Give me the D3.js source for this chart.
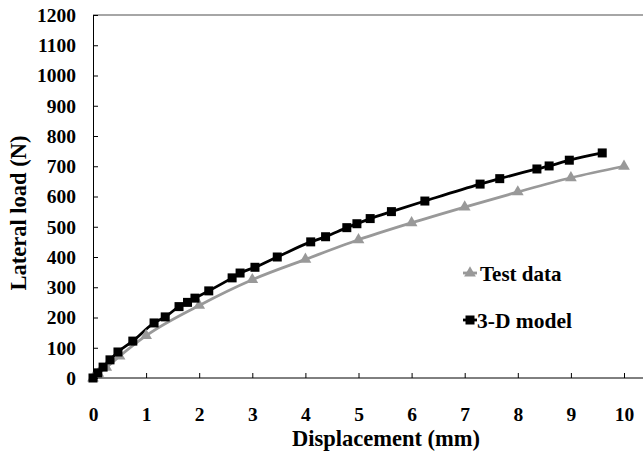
<!DOCTYPE html>
<html><head><meta charset="utf-8">
<script src="https://cdn.jsdelivr.net/npm/d3@7"></script>
<style>body{margin:0;background:#fff}svg{display:block}text{font-family:"Liberation Serif","Times New Roman",serif;font-weight:bold;fill:#000}</style>
</head><body><svg id="c" width="643" height="451"></svg>
<script>
const testX = [0, 0.1, 0.25, 0.5, 1, 2, 3, 4, 5, 6, 7, 8, 9, 10];
const testY = [0, 15, 35, 72, 140, 240, 325, 392, 457, 513, 565, 615, 662, 700];
const modelX = [0, 0.09, 0.19, 0.32, 0.47, 0.75, 1.15, 1.36, 1.62, 1.78, 1.92, 2.18, 2.62, 2.77, 3.05, 3.47, 4.1, 4.38, 4.78, 4.97, 5.22, 5.62, 6.25, 7.29, 7.66, 8.36, 8.59, 8.97, 9.59];
const modelY = [0, 17, 36, 60, 86, 122, 182, 202, 236, 250, 264, 288, 331, 347, 366, 400, 450, 467, 497, 510, 527, 550, 585, 641, 659, 691, 701, 720, 744];
const xTicks = [0,1,2,3,4,5,6,7,8,9,10];
const yTicks = [0,100,200,300,400,500,600,700,800,900,1000,1100,1200];
const seriesNames = ["Test data", "3-D model"];

const svg = d3.select("#c");
const x = d3.scaleLinear().domain([0,10]).range([93,624]);
const y = d3.scaleLinear().domain([0,1200]).range([378,15]);

svg.append("line").attr("x1",93).attr("x2",643).attr("y1",y(1200)).attr("y2",y(1200)).attr("stroke","#888").attr("stroke-width",1.5);
const xa = svg.append("g").attr("transform","translate(0,"+y(0)+")")
  .call(d3.axisBottom(x).tickValues(xTicks).tickSize(-5).tickPadding(29).tickFormat(d3.format("d")));
xa.select(".domain").attr("d","M93,0H643").attr("stroke","#000");
const ya = svg.append("g").attr("transform","translate("+x(0)+",0)")
  .call(d3.axisLeft(y).tickValues(yTicks).tickSize(-5).tickPadding(17).tickFormat(d3.format("d")));
ya.select(".domain").attr("stroke","#000");
svg.selectAll(".tick text").style("font-family","Liberation Serif").style("font-weight","bold").style("font-size","19.5px").attr("fill","#000");
svg.selectAll(".tick line").attr("stroke","#000");

svg.append("text").attr("x",386).attr("y",446).attr("text-anchor","middle").style("font-size","22.5px").text("Displacement (mm)");
svg.append("text").attr("transform","translate(26,213) rotate(-90)").attr("text-anchor","middle").style("font-size","22.5px").text("Lateral load (N)");

const line = d3.line().x(d=>x(d[0])).y(d=>y(d[1])).curve(d3.curveMonotoneX);
const test = testX.map((v,i)=>[v,testY[i]]);
const model = modelX.map((v,i)=>[v,modelY[i]]);
const gray = "#999999";

svg.append("path").attr("d",line(test)).attr("fill","none").attr("stroke",gray).attr("stroke-width",2.8);
svg.append("path").attr("d",line(model)).attr("fill","none").attr("stroke","#000").attr("stroke-width",2.8);

const tri = d3.symbol().type(d3.symbolTriangle).size(60);
svg.selectAll(".tri").data(test).join("path").attr("transform",d=>`translate(${x(d[0])},${y(d[1])})`).attr("d",tri).attr("fill",gray);
svg.selectAll(".sq").data(model).join("rect").attr("x",d=>x(d[0])-4.5).attr("y",d=>y(d[1])-4.5).attr("width",9).attr("height",9).attr("fill","#000");

const lg = [{n:seriesNames[0],c:gray,t:"tri",yy:273,tx:480,ty:281,fs:21},{n:seriesNames[1],c:"#000",t:"sq",yy:320,tx:477,ty:328,fs:21.5}];
lg.forEach(l=>{
  svg.append("line").attr("x1",463).attr("x2",477).attr("y1",l.yy).attr("y2",l.yy).attr("stroke",l.c).attr("stroke-width",2.8);
  if(l.t==="tri") svg.append("path").attr("transform",`translate(470,${l.yy})`).attr("d",tri).attr("fill",l.c);
  else svg.append("rect").attr("x",465.5).attr("y",l.yy-4.5).attr("width",9).attr("height",9).attr("fill",l.c);
  svg.append("text").attr("x",l.tx).attr("y",l.ty).style("font-size",l.fs+"px").text(l.n);
});
</script></body></html>
